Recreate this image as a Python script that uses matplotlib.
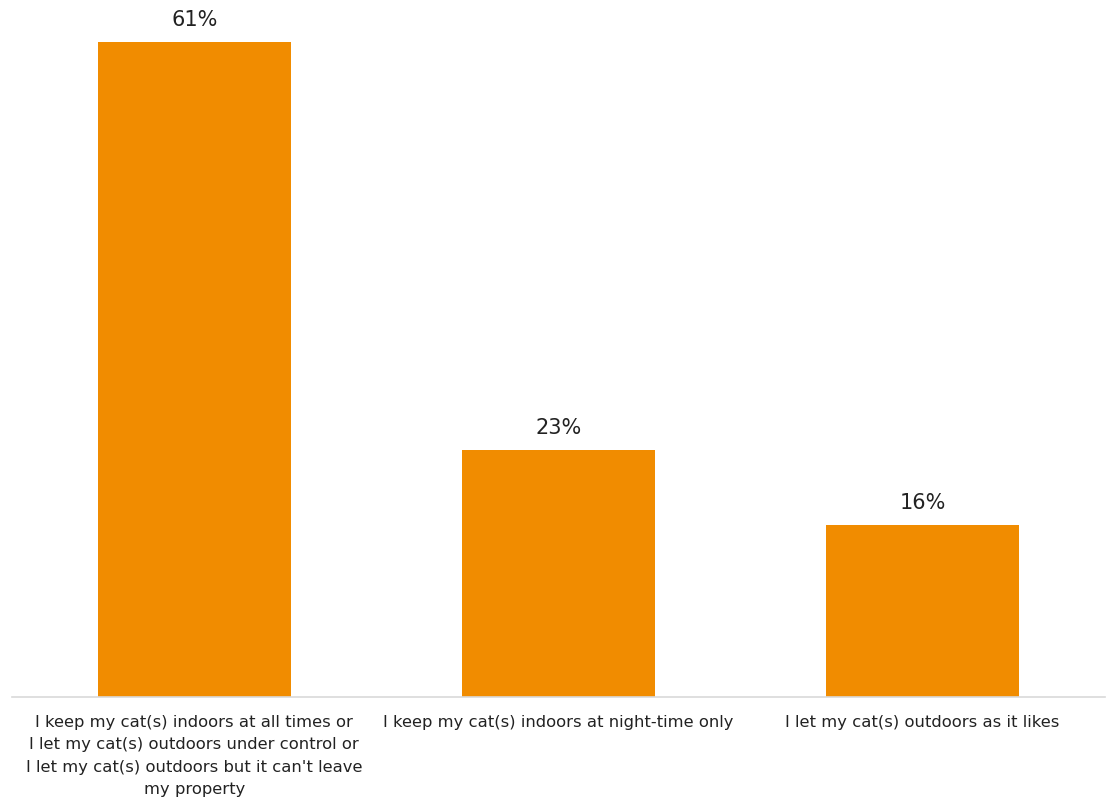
import matplotlib
matplotlib.use('Agg')
import matplotlib.pyplot as plt

plt.rcParams['font.family'] = ['DejaVu Sans']

categories = [
    "I keep my cat(s) indoors at all times or\nI let my cat(s) outdoors under control or\nI let my cat(s) outdoors but it can't leave\nmy property",
    "I keep my cat(s) indoors at night-time only",
    "I let my cat(s) outdoors as it likes",
]
values = [61, 23, 16]

fig = plt.figure(figsize=(11.07, 8.04), dpi=100)
ax = fig.add_axes([0.011, 1 - 698 / 804, 0.987, 698 / 804])

x = range(len(categories))
bars = ax.bar(x, values, width=0.53, color='#f18c00')

for b, v in zip(bars, values):
    ax.text(b.get_x() + b.get_width() / 2, v + 1.2, f'{v}%',
            ha='center', va='bottom', fontsize=15, color='#222222')

ax.set_xlim(-0.5, 2.5)
ax.set_ylim(0, 65)
ax.set_yticks([])
ax.set_xticks(list(x))
ax.set_xticklabels(categories, fontsize=11.8, color='#222222', linespacing=1.62)
ax.tick_params(axis='x', length=0, pad=12)

for s in ['top', 'right', 'left']:
    ax.spines[s].set_visible(False)
ax.spines['bottom'].set_color('#d9d9d9')
ax.spines['bottom'].set_linewidth(1.2)

fig.savefig('out.png', dpi=100)
